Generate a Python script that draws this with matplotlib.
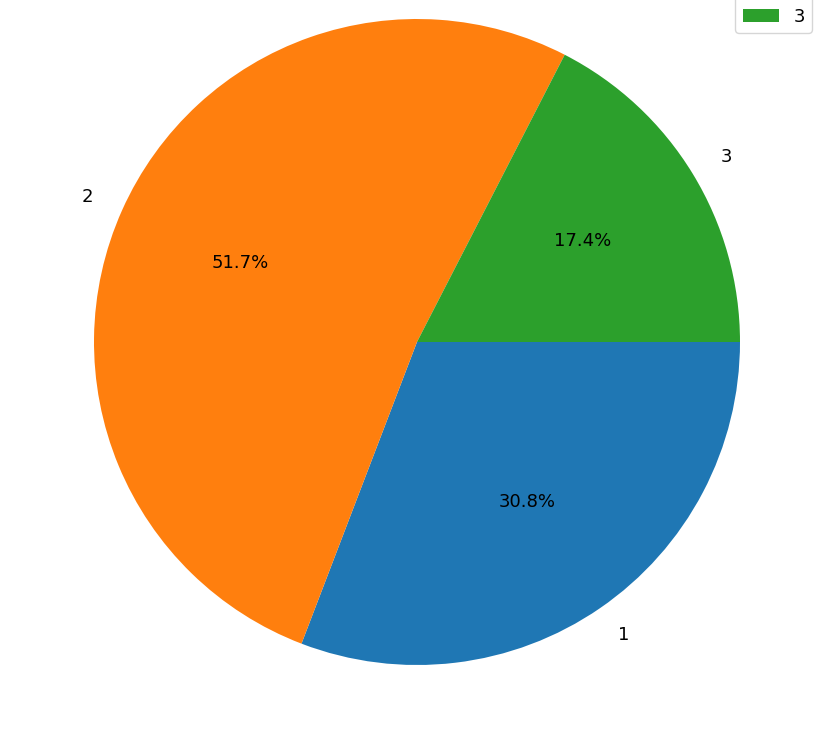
import matplotlib
matplotlib.use("Agg")
import matplotlib.pyplot as plt

labels = ["1", "2", "3"]
shares = [30.82, 51.74, 17.44]

W, H = 820, 729
fig = plt.figure(figsize=(W / 100, H / 100), dpi=100)

# pie centre ~(417, 342) px, radius ~323 px
r = 323
lim = 1.2
side = 2 * lim * r
ax = fig.add_axes([(417 - side / 2) / W, (H - 342 - side / 2) / H, side / W, side / H])

wedges, texts, autotexts = ax.pie(shares, labels=labels, autopct='%1.1f%%',
                                  startangle=0, counterclock=False,
                                  textprops={'fontsize': 13})
ax.set_xlim(-lim, lim)
ax.set_ylim(-lim, lim)
ax.set_aspect('equal')
ax.axis('off')

# legend sits mostly above the canvas, only the last entry shows
fig.legend(wedges, labels, loc='lower right', bbox_to_anchor=(812 / W, (H - 33) / H),
           borderaxespad=0, fontsize=13)

fig.savefig("out.png", dpi=100)
